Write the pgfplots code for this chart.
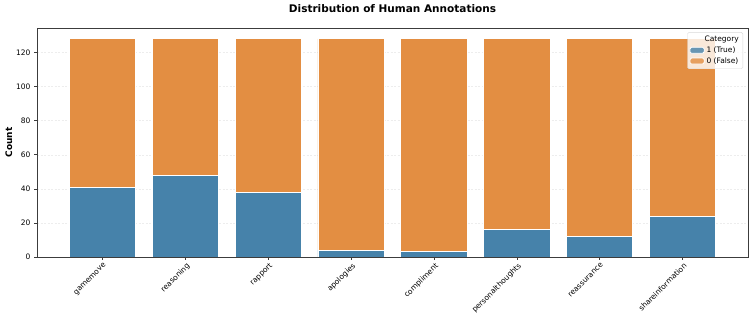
\documentclass[border=0pt]{standalone}
\usepackage{pgfplots}
\pgfplotsset{compat=1.18}
\usepackage{fontspec}
\setmainfont{DejaVu Sans}
\definecolor{cblue}{RGB}{70,130,170}
\definecolor{corange}{RGB}{227,142,66}
\definecolor{spine}{RGB}{60,60,60}
\begin{document}
\begin{tikzpicture}
\begin{axis}[
  name=ax,
  scale only axis,
  width=711pt, height=229pt,
  ybar stacked,
  bar width=0.8,
  xmin=-0.79, xmax=7.79,
  ymin=0, ymax=134.4,
  xtick=data,
  xticklabels={gamemove,reasoning,rapport,apologies,compliment,personalthoughts,reassurance,shareinformation},
  xticklabel style={rotate=45, anchor=north east, font=\fontsize{7.5}{8}\selectfont, inner sep=1pt, yshift=-1pt},
  ytick={0,20,40,60,80,100,120},
  yticklabel style={font=\fontsize{7.5}{8}\selectfont},
  /pgf/number format/assume math mode=true,
  tick align=outside,
  tick pos=left,
  major tick length=3pt,
  tick style={spine, line width=0.6pt},
  axis line style={spine, line width=0.8pt},
  ymajorgrids,
  grid style={dash pattern=on 2pt off 1.5pt, gray!14, line width=0.5pt},
  ylabel={\bfseries Count},
  ylabel style={font=\fontsize{9}{10}\selectfont, yshift=-3pt},
  title={\bfseries Distribution of Human Annotations},
  title style={font=\fontsize{10.5}{12}\selectfont, yshift=6pt},
  legend style={at={(rel axis cs:0.993,0.982)}, anchor=north east, font=\fontsize{7.5}{8.5}\selectfont,
    draw=gray!30, fill=white, fill opacity=0.8, text opacity=1, rounded corners=1.5pt,
    row sep=-0.5pt, inner sep=2pt},
  legend cell align=left,
  area legend,
  legend image code/.code={\draw[#1, draw=white] (0cm,-0.1cm) rectangle (0.5cm,0.11cm);},
]
\addlegendimage{empty legend}
\addlegendentry{\hspace{-2pt}Category}
\addplot[fill=cblue, draw=white, line width=0.8pt] coordinates {(0,41) (1,48) (2,38) (3,4) (4,3) (5,16) (6,12) (7,24)};
\addlegendentry{1 (True)}
\addplot[fill=corange, draw=white, line width=0.8pt] coordinates {(0,87) (1,80) (2,90) (3,124) (4,125) (5,112) (6,116) (7,104)};
\addlegendentry{0 (False)}
\end{axis}
\path ([shift={(-37pt,-63pt)}]ax.south west) rectangle ([shift={(5pt,28pt)}]ax.north east);
\end{tikzpicture}
\end{document}
